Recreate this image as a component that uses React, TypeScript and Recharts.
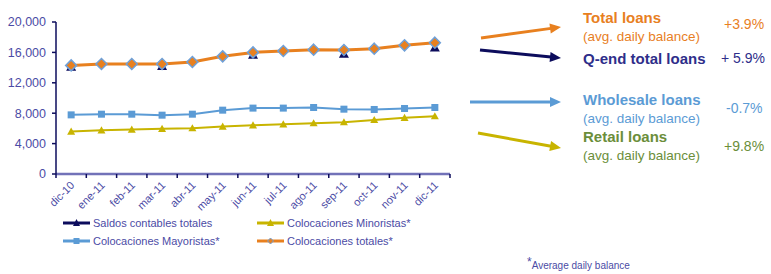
import React from "react";
import { ComposedChart, Line, XAxis, YAxis } from "recharts";

const months = ["dic-10", "ene-11", "feb-11", "mar-11", "abr-11", "may-11", "jun-11", "jul-11", "ago-11", "sep-11", "oct-11", "nov-11", "dic-11"];
const totales = [14290, 14470, 14470, 14470, 14740, 15480, 16000, 16190, 16360, 16320, 16490, 16930, 17280];
const saldos = [14100, null, null, 14200, null, null, 15700, null, null, 15830, null, null, 16660];
const mayoristas = [7780, 7870, 7870, 7740, 7870, 8400, 8670, 8670, 8750, 8530, 8490, 8620, 8750];
const minoristas = [5580, 5760, 5850, 5940, 6030, 6240, 6420, 6550, 6690, 6820, 7120, 7390, 7610];
const yTicks = [0, 4000, 8000, 12000, 16000, 20000];

const data = months.map((m, i) => ({
  m,
  totales: totales[i],
  saldos: saldos[i],
  mayoristas: mayoristas[i],
  minoristas: minoristas[i],
}));

const NAVY = "#0c0c5c";
const ORANGE = "#e8801f";
const BLUE = "#5b9bd5";
const YELLOW = "#c8b400";
const AXIS = "#7272b8";
const LABEL = "#4b4ba5";
const FONT = "'Liberation Sans', Arial, sans-serif";

const CHART_W = 460;
const LEFT = 56;
const RIGHT = 10;
const HALF_BAND = (CHART_W - LEFT - RIGHT) / months.length / 2;

function Diamond(p: any) {
  if (p.cy == null || p.value == null) return null;
  const r = 5.5;
  return (
    <polygon
      points={`${p.cx},${p.cy - r} ${p.cx + r},${p.cy} ${p.cx},${p.cy + r} ${p.cx - r},${p.cy}`}
      fill={ORANGE}
      stroke="#6fa0d8"
      strokeWidth={1.5}
    />
  );
}

function Square(p: any) {
  if (p.cy == null || p.value == null) return null;
  return <rect x={p.cx - 3.5} y={p.cy - 3.5} width={7} height={7} fill={BLUE} />;
}

function tri(color: string, r: number) {
  return (p: any) => {
    if (p.cy == null || p.value == null) return null;
    return (
      <polygon
        key={p.index}
        points={`${p.cx},${p.cy - r} ${p.cx + r},${p.cy + r * 0.8} ${p.cx - r},${p.cy + r * 0.8}`}
        fill={color}
      />
    );
  };
}

function XTick(p: any) {
  const { x, y, payload, index } = p;
  const last = index === months.length - 1;
  return (
    <g>
      <line x1={x - HALF_BAND} y1={y} x2={x - HALF_BAND} y2={y + 4} stroke={NAVY} strokeWidth={1.5} />
      {last && <line x1={x + HALF_BAND} y1={y} x2={x + HALF_BAND} y2={y + 4} stroke={NAVY} strokeWidth={1.5} />}
      <text
        x={0}
        y={0}
        transform={`translate(${x + 4},${y + 12}) rotate(-45)`}
        textAnchor="end"
        fontSize={11}
        fill={LABEL}
        fontFamily={FONT}
      >
        {payload.value}
      </text>
    </g>
  );
}

const legendItems = [
  { name: "Saldos contables totales", color: NAVY, marker: "tri", x: 63, y: 224 },
  { name: "Colocaciones Minoristas*", color: YELLOW, marker: "tri", x: 257, y: 224 },
  { name: "Colocaciones Mayoristas*", color: BLUE, marker: "sq", x: 63, y: 242 },
  { name: "Colocaciones totales*", color: ORANGE, marker: "dia", x: 257, y: 242 },
];

function LegendIcon({ color, marker }: { color: string; marker: string }) {
  return (
    <svg width={28} height={10} style={{ display: "block" }}>
      <line x1={0} y1={5} x2={27} y2={5} stroke={color} strokeWidth={3} />
      {marker === "tri" && <polygon points="13.5,1 17,8 10,8" fill={color} />}
      {marker === "sq" && <rect x={10.5} y={2} width={6} height={6} fill={color} />}
      {marker === "dia" && <polygon points="13.5,2 16.5,5 13.5,8 10.5,5" fill={color} stroke="#6fa0d8" strokeWidth={1} />}
    </svg>
  );
}

function Arrow({ x1, y1, x2, y2, color }: { x1: number; y1: number; x2: number; y2: number; color: string }) {
  const a = Math.atan2(y2 - y1, x2 - x1);
  const L = 11;
  const W = 5;
  const bx = x2 - L * Math.cos(a);
  const by = y2 - L * Math.sin(a);
  const px = -Math.sin(a) * W;
  const py = Math.cos(a) * W;
  return (
    <g>
      <line x1={x1} y1={y1} x2={bx + Math.cos(a)} y2={by + Math.sin(a)} stroke={color} strokeWidth={3} />
      <polygon points={`${x2},${y2} ${bx + px},${by + py} ${bx - px},${by - py}`} fill={color} />
    </g>
  );
}

const notes = [
  { title: "Total loans", sub: true, pct: "+3.9%", color: ORANGE, y: 8, pctX: 724, pctY: 15 },
  { title: "Q-end total loans", sub: false, pct: "+ 5.9%", color: "#2e2e8a", y: 49, pctX: 721, pctY: 49 },
  { title: "Wholesale loans", sub: true, pct: "-0.7%", color: BLUE, y: 90, pctX: 726, pctY: 99 },
  { title: "Retail loans", sub: true, pct: "+9.8%", color: "#6b8e3a", y: 127, pctX: 724, pctY: 137 },
];

export default function App() {
  return (
    <div style={{ position: "absolute", left: 0, top: 0, width: 771, height: 274, background: "#fff", fontFamily: FONT, overflow: "hidden" }}>
      <ComposedChart width={CHART_W} height={230} data={data} margin={{ top: 22, right: RIGHT, left: 0, bottom: 0 }}>
        <XAxis
          dataKey="m"
          height={56}
          interval={0}
          padding={{ left: HALF_BAND, right: HALF_BAND }}
          tickLine={false}
          tickSize={0}
          tickMargin={0}
          axisLine={{ stroke: AXIS, strokeWidth: 2.5 }}
          tick={<XTick />}
        />
        <YAxis
          width={LEFT}
          domain={[0, 20000]}
          ticks={yTicks}
          tickFormatter={(v: number) => v.toLocaleString("en-US")}
          axisLine={{ stroke: NAVY, strokeWidth: 1.5 }}
          tickLine={{ stroke: NAVY, strokeWidth: 1.5 }}
          tickSize={4}
          tickMargin={6}
          tick={{ fill: LABEL, fontSize: 12.5, fontFamily: FONT }}
        />
        <Line dataKey="minoristas" stroke={YELLOW} strokeWidth={2} dot={tri(YELLOW, 4)} isAnimationActive={false} />
        <Line dataKey="mayoristas" stroke={BLUE} strokeWidth={2} dot={<Square />} isAnimationActive={false} />
        <Line dataKey="saldos" stroke={NAVY} strokeWidth={2} connectNulls={false} dot={tri(NAVY, 5)} isAnimationActive={false} />
        <Line dataKey="totales" stroke={ORANGE} strokeWidth={3} dot={<Diamond />} isAnimationActive={false} />
      </ComposedChart>

      {legendItems.map((it) => (
        <div key={it.name} style={{ position: "absolute", left: it.x, top: it.y - 7, display: "flex", alignItems: "center", gap: 2, fontSize: 11, color: LABEL, whiteSpace: "nowrap" }}>
          <LegendIcon color={it.color} marker={it.marker} />
          <span>{it.name}</span>
        </div>
      ))}

      <svg width={771} height={274} style={{ position: "absolute", left: 0, top: 0, pointerEvents: "none" }}>
        <Arrow x1={481} y1={38} x2={561} y2={27} color={ORANGE} />
        <Arrow x1={480} y1={50} x2={561} y2={58} color={NAVY} />
        <Arrow x1={470} y1={102} x2={561} y2={102} color={BLUE} />
        <Arrow x1={478} y1={133} x2={561} y2={148} color={YELLOW} />
      </svg>

      {notes.map((n) => (
        <React.Fragment key={n.title}>
          <div style={{ position: "absolute", left: 583, top: n.y, color: n.color, lineHeight: "19px" }}>
            <div style={{ fontWeight: "bold", fontSize: 15 }}>{n.title}</div>
            {n.sub && <div style={{ fontSize: 13.5 }}>(avg. daily balance)</div>}
          </div>
          <div style={{ position: "absolute", left: n.pctX, top: n.pctY, color: n.color, fontSize: 14, lineHeight: "19px" }}>{n.pct}</div>
        </React.Fragment>
      ))}

      <div style={{ position: "absolute", left: 527, top: 259, fontSize: 10, lineHeight: "12px", color: LABEL, whiteSpace: "nowrap" }}>
        <span style={{ fontSize: 12, position: "relative", top: -3 }}>*</span>Average daily balance
      </div>
    </div>
  );
}
